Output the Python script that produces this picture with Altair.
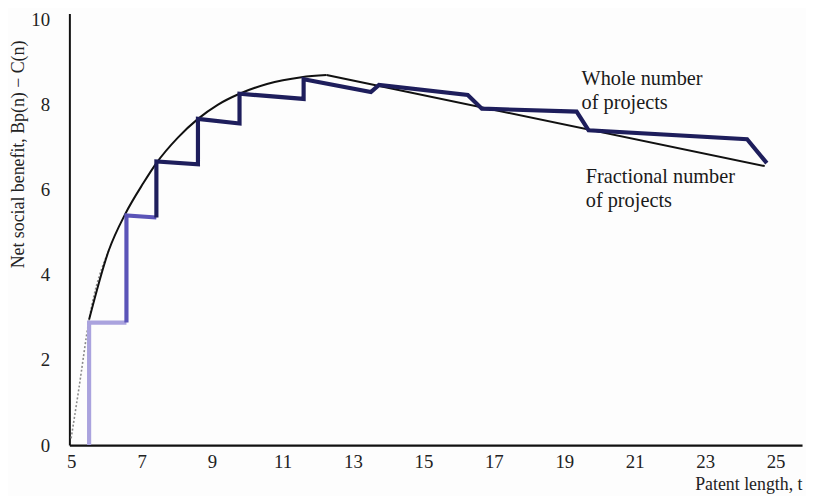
import altair as alt
import pandas as pd

# Fractional number of projects (smooth curve)
frac_x = [5.0, 5.22, 5.51, 6.07, 6.54, 7.05, 7.42, 8.03, 8.60, 9.16, 9.78, 10.56, 11.54, 12.25, 24.69]
frac_y = [0.16, 1.33, 2.95, 4.58, 5.44, 6.16, 6.63, 7.23, 7.67, 8.00, 8.26, 8.49, 8.65, 8.70, 6.56]

# Whole number of projects (step line)
whole_x = [5.51, 5.51, 6.57, 6.57, 7.42, 7.42, 8.60, 8.60, 9.78, 9.78, 11.60, 11.60,
           13.51, 13.74, 16.26, 16.66, 19.35, 19.69, 24.19, 24.75]
whole_y = [0.00, 2.88, 2.88, 5.40, 5.35, 6.67, 6.60, 7.67, 7.56, 8.26, 8.14, 8.60,
           8.30, 8.47, 8.23, 7.91, 7.84, 7.40, 7.19, 6.63]

x_ticks = [5, 7, 9, 11, 13, 15, 17, 19, 21, 23, 25]
y_ticks = [0, 2, 4, 6, 8, 10]

labels_text = ["Whole number\nof projects", "Fractional number\nof projects"]
labels_x = [19.49, 19.61]
labels_y = [8.60, 6.30]

FONT = "Liberation Serif"

# build tables
rows = []
for i, (x, y) in enumerate(zip(frac_x, frac_y)):
    if i <= 3:
        rows.append({"x": x, "y": y, "i": i, "seg": "faint"})
    if 2 <= i <= 13:
        rows.append({"x": x, "y": y, "i": i, "seg": "rise"})
    if i >= 13:
        rows.append({"x": x, "y": y, "i": i, "seg": "fall"})
frac_df = pd.DataFrame(rows)

rows = []
for i, (x, y) in enumerate(zip(whole_x, whole_y)):
    if i <= 2:
        rows.append({"x": x, "y": y, "i": i, "seg": "light"})
    if 2 <= i <= 4:
        rows.append({"x": x, "y": y, "i": i, "seg": "mid"})
    if i >= 4:
        rows.append({"x": x, "y": y, "i": i, "seg": "dark"})
whole_df = pd.DataFrame(rows)

lab_df = pd.DataFrame({"x": labels_x, "y": labels_y, "t": labels_text})

xs = alt.Scale(domain=[4.95, 25.75], nice=False, zero=False)
ys = alt.Scale(domain=[0, 10.15], nice=False)

xaxis = alt.Axis(values=x_ticks, title="Patent length, t", grid=False, tickSize=0,
                 labelPadding=8, labelFontSize=19, labelFont=FONT, labelColor="#222",
                 domainColor="#111", domainWidth=2.2,
                 titleFont=FONT, titleFontSize=18, titleFontWeight="normal", titleColor="#222",
                 titleX=740, titleY=40, titleAlign="right", titleBaseline="middle",
                 labelFlush=False)
yaxis = alt.Axis(values=y_ticks, title="Net social benefit, Bp(n) \u2212 C(n)", grid=False,
                 tickSize=0, labelPadding=20, labelFontSize=19, labelFont=FONT,
                 labelColor="#222", domainColor="#111", domainWidth=2,
                 titleFont=FONT, titleFontSize=18, titleFontWeight="normal", titleColor="#222",
                 titleX=-51, titleY=142, titleAlign="center", titleBaseline="middle",
                 titleAngle=270, labelFlush=False)

frac_faint = alt.Chart(frac_df[frac_df.seg == "faint"]).mark_line(
    color="#8a8a8a", strokeWidth=1.6, strokeDash=[2, 2], interpolate="monotone"
).encode(x=alt.X("x:Q", scale=xs, axis=xaxis), y=alt.Y("y:Q", scale=ys, axis=yaxis), order="i:Q")

frac_rise = alt.Chart(frac_df[frac_df.seg == "rise"]).mark_line(
    color="#111111", strokeWidth=2, interpolate="monotone"
).encode(x=alt.X("x:Q", scale=xs), y=alt.Y("y:Q", scale=ys), order="i:Q")

frac_fall = alt.Chart(frac_df[frac_df.seg == "fall"]).mark_line(
    color="#111111", strokeWidth=2
).encode(x=alt.X("x:Q", scale=xs), y=alt.Y("y:Q", scale=ys), order="i:Q")

whole = alt.Chart(whole_df).mark_line(strokeWidth=4.2, strokeJoin="miter").encode(
    x=alt.X("x:Q", scale=xs),
    y=alt.Y("y:Q", scale=ys),
    order="i:Q",
    color=alt.Color("seg:N", scale=alt.Scale(domain=["light", "mid", "dark"],
                                             range=["#aaa3de", "#5b54b8", "#1e1e5c"]),
                    legend=None),
)

labels = alt.Chart(lab_df).mark_text(
    align="left", baseline="middle", font=FONT, fontSize=20.5, color="#1a1a1a",
    lineBreak="\n", lineHeight=24
).encode(x=alt.X("x:Q", scale=xs), y=alt.Y("y:Q", scale=ys), text="t:N")

chart = alt.layer(frac_faint, frac_rise, frac_fall, whole, labels).properties(
    width=740, height=436,
    padding={"left": 62, "top": 3, "right": 4, "bottom": 49},
    autosize=alt.AutoSizeParams(type="none"),
    background="#fdfdfd",
).configure_view(stroke=None)

chart.save("out.html", embed_options={"renderer": "svg", "actions": False})
